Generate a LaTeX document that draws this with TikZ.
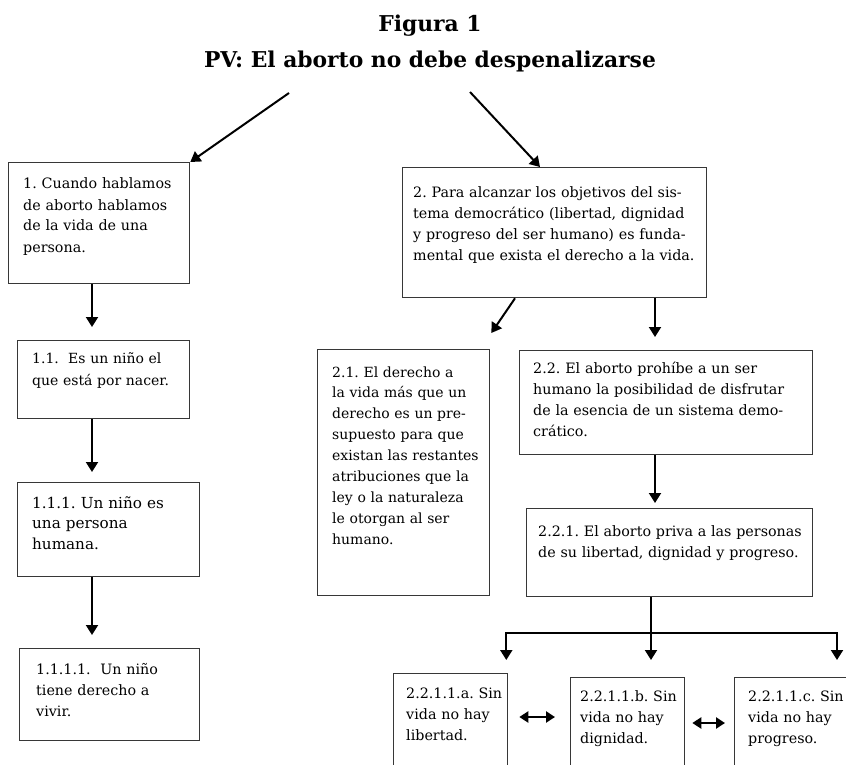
\documentclass[tikz,border=0pt]{standalone}
\usepackage{fontspec}
\setmainfont{DejaVu Serif}
\usepackage{tikz}
\usetikzlibrary{arrows.meta, calc, positioning}
\frenchspacing

\definecolor{boxgray}{RGB}{55,55,55}

\tikzset{
  box/.style={draw=boxgray, line width=1.3pt, anchor=north west, inner sep=0pt},
  txt/.style={anchor=base west, inner sep=0pt, align=left, text width=300pt, font=\fontsize{14.3}{21}\selectfont},
  bigtxt/.style={txt, font=\fontsize{15.2}{20.7}\selectfont},
  ttl/.style={anchor=base, inner sep=0pt, font=\fontsize{21.8}{24}\selectfont\bfseries},
  arr/.style={-{Triangle[width=12pt,length=10pt]}, line width=2pt},
  stem/.style={line width=2pt},
  dbl/.style={{Triangle[width=11pt,length=9pt]}-{Triangle[width=11pt,length=9pt]}, line width=2.5pt}
}

\begin{document}
\begin{tikzpicture}[x=1pt, y=-1pt]
\useasboundingbox (0,0) rectangle (846,765);
\fill[white] (0,0) rectangle (846,765);
\clip (0,0) rectangle (846,765);

% title
\node[ttl] (fig) at (430,32) {Figura 1};
\node[ttl] (pv) at (430,68) {PV: El aborto no debe despenalizarse};

% left column
\node[box, minimum width=181pt, minimum height=121pt] (b1) at (8,162) {};
\node[txt] (t1) at (23,189) {1. Cuando hablamos\\de aborto hablamos\\de la vida de una\\persona.};

\node[box, minimum width=172pt, minimum height=78pt] (b11) at (17,340) {};
\node[txt, font=\fontsize{14}{22.5}\selectfont] (t11) at (32,363) {1.1.\ \ Es un niño el\\que está por nacer.};

\node[box, minimum width=182pt, minimum height=94pt] (b111) at (17,482) {};
\node[bigtxt] (t111) at (32,508) {1.1.1. Un niño es\\una persona\\humana.};

\node[box, minimum width=180pt, minimum height=92pt] (b1111) at (19,648) {};
\node[txt] (t1111) at (36,674) {1.1.1.1.\ \ Un niño\\tiene derecho a\\vivir.};

% right column
\node[box, minimum width=304pt, minimum height=130pt] (b2) at (402,167) {};
\node[txt] (t2) at (413,197) {2. Para alcanzar los objetivos del sis-\\tema democrático (libertad, dignidad\\y progreso del ser humano) es funda-\\mental que exista el derecho a la vida.};

\node[box, minimum width=172pt, minimum height=246pt] (b21) at (317,349) {};
\node[txt, font=\fontsize{14}{20.9}\selectfont] (t21) at (332,377) {2.1. El derecho a\\la vida más que un\\derecho es un pre-\\supuesto para que\\existan las restantes\\atribuciones que la\\ley o la naturaleza\\le otorgan al ser\\humano.};

\node[box, minimum width=293pt, minimum height=104pt] (b22) at (519,350) {};
\node[txt] (t22) at (533,373) {2.2. El aborto prohíbe a un ser\\humano la posibilidad de disfrutar\\de la esencia de un sistema demo-\\crático.};

\node[box, minimum width=286pt, minimum height=88pt] (b221) at (526,508) {};
\node[txt] (t221) at (538,536) {2.2.1. El aborto priva a las personas\\de su libertad, dignidad y progreso.};

\node[box, minimum width=114pt, minimum height=100pt] (ba) at (393,673) {};
\node[txt] (ta) at (406,698) {2.2.1.1.a. Sin\\vida no hay\\libertad.};

\node[box, minimum width=114pt, minimum height=100pt] (bb) at (570,677) {};
\node[txt] (tb) at (580,701) {2.2.1.1.b. Sin\\vida no hay\\dignidad.};

\node[box, minimum width=120pt, minimum height=100pt] (bc) at (734,677) {};
\node[txt] (tc) at (748,701) {2.2.1.1.c. Sin\\vida no hay\\progreso.};

% connectors
\coordinate (s1) at (289,93);
\coordinate (s2) at (470,92);
\draw[arr] (s1) -- (b1.north east);
\draw[arr] (s2) -- ($(b2.north west)+(138,0)$);

\coordinate (colL) at (92,0);
\draw[arr] (b1.south -| colL) -- ($(b11.north -| colL)+(0,-13)$);
\draw[arr] (b11.south -| colL) -- ($(b111.north -| colL)+(0,-10)$);
\draw[arr] (b111.south -| colL) -- ($(b1111.north -| colL)+(0,-13)$);

\coordinate (colR) at (655,0);
\draw[arr] ($(b2.south west)+(113,0)$) -- ($(b21.north east)+(1,-16)$);
\draw[arr] (b2.south -| colR) -- ($(b22.north -| colR)+(0,-13)$);
\draw[arr] (b22.south -| colR) -- ($(b221.north -| colR)+(0,-5)$);

\coordinate (fork) at (651,633);
\draw[stem] (b221.south -| fork) -- (fork);
\draw[arr] (fork) -- ($(bb.north -| fork)+(0,-17)$);
\draw[arr] (fork) -| ($(ba.north east)+(-2,-13)$);
\draw[arr] (fork) -| ($(bc.north west)+(103,-17)$);

\draw[dbl] ($(ba.north east)+(11,44)$) -- ($(bb.north west)+(-15,40)$);
\draw[dbl] ($(bb.north east)+(7,46)$) -- ($(bc.north west)+(-9,46)$);
\end{tikzpicture}
\end{document}
